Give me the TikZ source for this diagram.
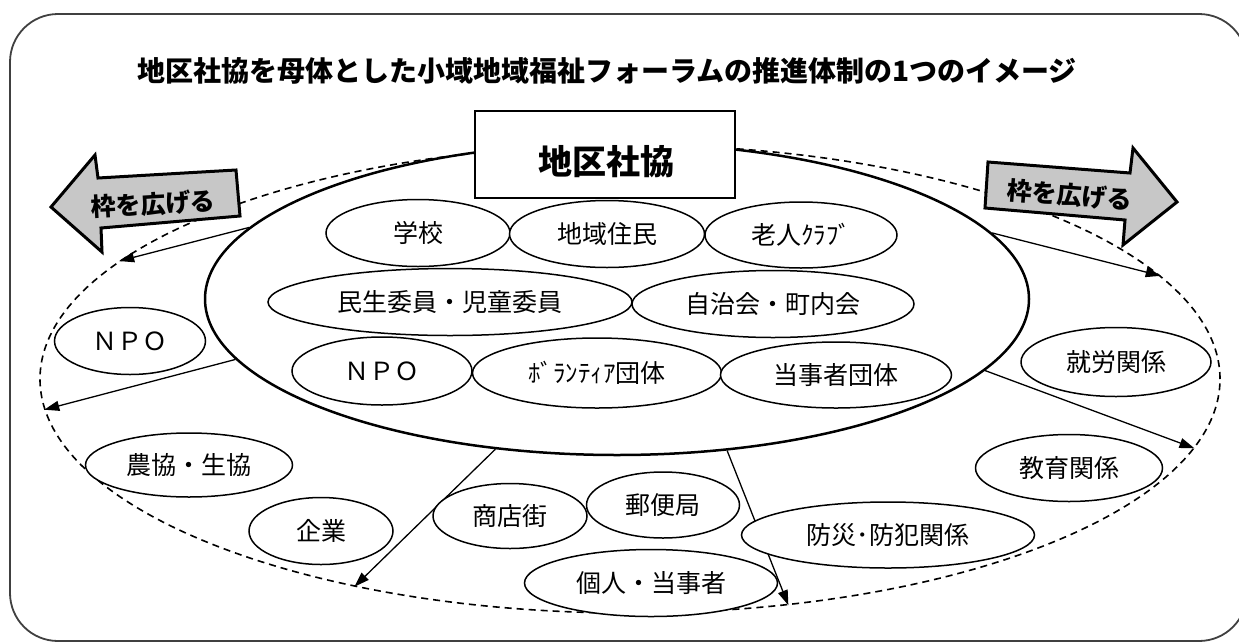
\documentclass[tikz,border=0pt]{standalone}
\usepackage{fontspec}
\newfontfamily\jp{Noto Sans CJK JP}
\usetikzlibrary{arrows.meta,shapes.geometric}
\begin{document}
\begin{tikzpicture}[x=1pt,y=-1pt,
  lab/.style={ellipse,draw,line width=1.5pt,fill=white,inner sep=0pt,
    font=\jp\fontsize{25}{28}\selectfont},
  frame/.style={draw=black!75,line width=1.8pt,rounded corners=48pt},
  zoneell/.style={ellipse,draw,line width=2.5pt,inner sep=0pt},
  outerell/.style={ellipse,draw,line width=1.6pt,dash pattern=on 7pt off 5pt,inner sep=0pt},
  conn/.style={line width=1.3pt,-{Triangle[length=15pt,width=10pt]}},
  blockarrow/.style={draw,line width=3pt,fill=black!22,line join=miter},
  arrowtext/.style={font=\jp\bfseries\fontsize{25}{28}\selectfont},
  kbox/.style={draw,line width=1.8pt,fill=white,minimum width=260pt,minimum height=87pt,inner sep=0pt}
]
\useasboundingbox (0,0) rectangle (1239,643);
\fill[white] (0,0) rectangle (1239,643);
% outer frame
\draw[frame] (10,14) rectangle (1247,641);
% title
\node[font=\jp\bfseries\fontsize{28}{32}\selectfont] (title) at (607,71)
  {地区社協を母体とした小域地域福祉フォーラムの推進体制の1つのイメージ};
% big ellipses
\node[outerell,minimum width=1180pt,minimum height=468pt] (outer) at (630,379) {};
\node[zoneell,minimum width=824pt,minimum height=312pt] (zone) at (617,299) {};
% connectors
\draw[conn] (zone.169.5) -- (outer.167.6);
\draw[conn] (zone.189.9) -- (outer.183.3);
\draw[conn] (zone.231.3) -- (outer.217.1);
\draw[conn] (zone.306.1) -- (outer.305.9);
\draw[conn] (zone.349.7) -- (outer.353.1);
\draw[conn] (zone.10.1) -- (outer.11.4);
% block arrows
\path[blockarrow] (51,207) -- (95,155) -- (98,178) -- (236,170) -- (240,216)
  -- (101,228) -- (102,252) -- cycle;
\node[arrowtext,rotate=3.3] (leftarrowtext) at (153,204) {枠を広げる};
\path[blockarrow] (988,162) -- (1130,173) -- (1133,148) -- (1177,202)
  -- (1123,245) -- (1125,220) -- (985,208) -- cycle;
\node[arrowtext,rotate=-4.4] (rightarrowtext) at (1070,195) {枠を広げる};
% central box
\node[kbox] (kyo) at (605,154.5) {};
\node[font=\jp\bfseries\fontsize{34}{40}\selectfont] (kyotext) at (606,162) {地区社協};
% inner ellipses
\node[lab,minimum width=184pt,minimum height=67pt] (gakko) at (418,233) {学校};
\node[lab,minimum width=195pt,minimum height=67pt] (jumin) at (607,234) {地域住民};
\node[lab,minimum width=192pt,minimum height=66pt] (rojin) at (801,235) {老人ｸﾗﾌﾞ};
\node[lab,minimum width=364pt,minimum height=67pt] (minsei) at (450,302) {民生委員・児童委員};
\node[lab,minimum width=282pt,minimum height=67pt] (jichi) at (773,304) {自治会・町内会};
\node[lab,minimum width=180pt,minimum height=68pt] (npoin) at (382,371) {ＮＰＯ};
\node[lab,minimum width=249pt,minimum height=70pt] (vol) at (597,373) {ﾎﾞﾗﾝﾃｨｱ団体};
\node[lab,minimum width=231pt,minimum height=66pt] (toji) at (836,375) {当事者団体};
% outer ellipses
\node[lab,minimum width=151pt,minimum height=67pt] (npoout) at (130,341) {ＮＰＯ};
\node[lab,minimum width=207pt,minimum height=64pt] (noukyo) at (189,465) {農協・生協};
\node[lab,minimum width=144pt,minimum height=67pt] (kigyo) at (321,531) {企業};
\node[lab,minimum width=154pt,minimum height=65pt] (shoten) at (510,516) {商店街};
\node[lab,minimum width=153pt,minimum height=66pt] (yubin) at (663,505) {郵便局};
\node[lab,minimum width=253pt,minimum height=67pt] (kojin) at (651,583) {個人・当事者};
\node[lab,minimum width=293pt,minimum height=66pt] (bosai) at (888,535) {防災･防犯関係};
\node[lab,minimum width=187pt,minimum height=67pt] (kyoiku) at (1069,468) {教育関係};
\node[lab,minimum width=190pt,minimum height=69pt] (shuro) at (1116,362) {就労関係};
\end{tikzpicture}
\end{document}
